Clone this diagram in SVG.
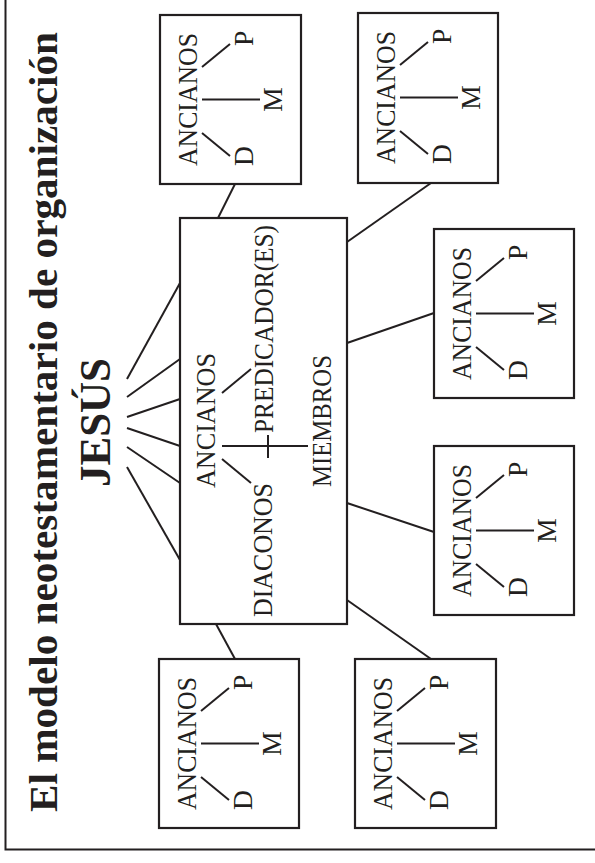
<svg xmlns="http://www.w3.org/2000/svg" width="595" height="863" viewBox="0 0 595 863">
<style>
.bx{fill:#fff;stroke:#231f20;stroke-width:2.2}
.ln{stroke:#231f20;stroke-width:2;fill:none;stroke-linecap:butt}
.t{font-family:"Liberation Serif","DejaVu Serif",serif;font-size:27.5px;fill:#231f20}
.title{font-family:"Liberation Serif","DejaVu Serif",serif;font-weight:bold;fill:#231f20}
</style>
<rect x="0" y="0" width="595" height="863" fill="#fff"/>
<g id="frame">
<polyline class="ln" points="5.5,0 5.5,849.5 595,849.5" stroke-width="2.2"/>
</g>
<g id="title">
<text class="title" font-size="39" transform="translate(57,812) rotate(-90)" textLength="780" lengthAdjust="spacingAndGlyphs">El modelo neotestamentario de organización</text>
</g>
<g id="jesus">
<text class="title" font-size="45" transform="translate(110,487) rotate(-90)" textLength="129" lengthAdjust="spacingAndGlyphs">JESÚS</text>
</g>
<g id="connectors">
<line class="ln" x1="127" y1="379" x2="180" y2="283"/>
<line class="ln" x1="127" y1="397" x2="180" y2="359"/>
<line class="ln" x1="127" y1="417" x2="180" y2="399"/>
<line class="ln" x1="127" y1="428" x2="180" y2="446"/>
<line class="ln" x1="127" y1="447" x2="180" y2="483"/>
<line class="ln" x1="127" y1="467" x2="180" y2="560"/>
<line class="ln" x1="218" y1="218" x2="235" y2="184"/>
<line class="ln" x1="347" y1="242" x2="431" y2="183"/>
<line class="ln" x1="347" y1="343" x2="434" y2="313"/>
<line class="ln" x1="347" y1="503" x2="434" y2="532"/>
<line class="ln" x1="216" y1="624" x2="235" y2="659"/>
<line class="ln" x1="347" y1="600" x2="431" y2="659"/>
</g>
<g id="center">
<rect class="bx" x="180" y="218" width="167" height="406"/>
<line class="ln" x1="222" y1="393" x2="251" y2="369"/>
<line class="ln" x1="222" y1="459" x2="251" y2="483"/>
<line class="ln" x1="222" y1="446" x2="308" y2="446"/>
<line class="ln" x1="268" y1="435" x2="268" y2="458"/>
<text class="t" transform="translate(215,488) rotate(-90)" textLength="135" lengthAdjust="spacingAndGlyphs">ANCIANOS</text>
<text class="t" transform="translate(273,433) rotate(-90)" textLength="208" lengthAdjust="spacingAndGlyphs">PREDICADOR(ES)</text>
<text class="t" transform="translate(272,617) rotate(-90)" textLength="134" lengthAdjust="spacingAndGlyphs">DIACONOS</text>
<text class="t" transform="translate(331,487) rotate(-90)" textLength="132" lengthAdjust="spacingAndGlyphs">MIEMBROS</text>
</g>
<g id="boxA" transform="translate(160,15)">
<rect class="bx" x="0" y="0" width="141" height="169"/>
<line class="ln" x1="42" y1="52" x2="70" y2="29"/>
<line class="ln" x1="42" y1="84.5" x2="100" y2="84.5"/>
<line class="ln" x1="42" y1="118" x2="70" y2="141"/>
<text class="t" transform="translate(37,151) rotate(-90)" textLength="133" lengthAdjust="spacingAndGlyphs">ANCIANOS</text>
<text class="t" transform="translate(93,151) rotate(-90)">D</text>
<text class="t" transform="translate(93,31) rotate(-90)">P</text>
<text class="t" transform="translate(122,84.5) rotate(-90)" text-anchor="middle">M</text>
</g>
<g id="boxB" transform="translate(358,13)">
<rect class="bx" x="0" y="0" width="140" height="170"/>
<line class="ln" x1="42" y1="52" x2="70" y2="29"/>
<line class="ln" x1="42" y1="84.5" x2="100" y2="84.5"/>
<line class="ln" x1="42" y1="118" x2="70" y2="141"/>
<text class="t" transform="translate(37,151) rotate(-90)" textLength="133" lengthAdjust="spacingAndGlyphs">ANCIANOS</text>
<text class="t" transform="translate(93,151) rotate(-90)">D</text>
<text class="t" transform="translate(93,31) rotate(-90)">P</text>
<text class="t" transform="translate(122,84.5) rotate(-90)" text-anchor="middle">M</text>
</g>
<g id="boxC" transform="translate(434,229)">
<rect class="bx" x="0" y="0" width="140" height="169"/>
<line class="ln" x1="42" y1="52" x2="70" y2="29"/>
<line class="ln" x1="42" y1="84.5" x2="100" y2="84.5"/>
<line class="ln" x1="42" y1="118" x2="70" y2="141"/>
<text class="t" transform="translate(37,151) rotate(-90)" textLength="133" lengthAdjust="spacingAndGlyphs">ANCIANOS</text>
<text class="t" transform="translate(93,151) rotate(-90)">D</text>
<text class="t" transform="translate(93,31) rotate(-90)">P</text>
<text class="t" transform="translate(122,84.5) rotate(-90)" text-anchor="middle">M</text>
</g>
<g id="boxD" transform="translate(434,446)">
<rect class="bx" x="0" y="0" width="140" height="169"/>
<line class="ln" x1="42" y1="52" x2="70" y2="29"/>
<line class="ln" x1="42" y1="84.5" x2="100" y2="84.5"/>
<line class="ln" x1="42" y1="118" x2="70" y2="141"/>
<text class="t" transform="translate(37,151) rotate(-90)" textLength="133" lengthAdjust="spacingAndGlyphs">ANCIANOS</text>
<text class="t" transform="translate(93,151) rotate(-90)">D</text>
<text class="t" transform="translate(93,31) rotate(-90)">P</text>
<text class="t" transform="translate(122,84.5) rotate(-90)" text-anchor="middle">M</text>
</g>
<g id="boxE" transform="translate(159,659)">
<rect class="bx" x="0" y="0" width="140" height="169"/>
<line class="ln" x1="42" y1="52" x2="70" y2="29"/>
<line class="ln" x1="42" y1="84.5" x2="100" y2="84.5"/>
<line class="ln" x1="42" y1="118" x2="70" y2="141"/>
<text class="t" transform="translate(37,151) rotate(-90)" textLength="133" lengthAdjust="spacingAndGlyphs">ANCIANOS</text>
<text class="t" transform="translate(93,151) rotate(-90)">D</text>
<text class="t" transform="translate(93,31) rotate(-90)">P</text>
<text class="t" transform="translate(122,84.5) rotate(-90)" text-anchor="middle">M</text>
</g>
<g id="boxF" transform="translate(355,659)">
<rect class="bx" x="0" y="0" width="141" height="169"/>
<line class="ln" x1="42" y1="52" x2="70" y2="29"/>
<line class="ln" x1="42" y1="84.5" x2="100" y2="84.5"/>
<line class="ln" x1="42" y1="118" x2="70" y2="141"/>
<text class="t" transform="translate(37,151) rotate(-90)" textLength="133" lengthAdjust="spacingAndGlyphs">ANCIANOS</text>
<text class="t" transform="translate(93,151) rotate(-90)">D</text>
<text class="t" transform="translate(93,31) rotate(-90)">P</text>
<text class="t" transform="translate(122,84.5) rotate(-90)" text-anchor="middle">M</text>
</g>
</svg>
